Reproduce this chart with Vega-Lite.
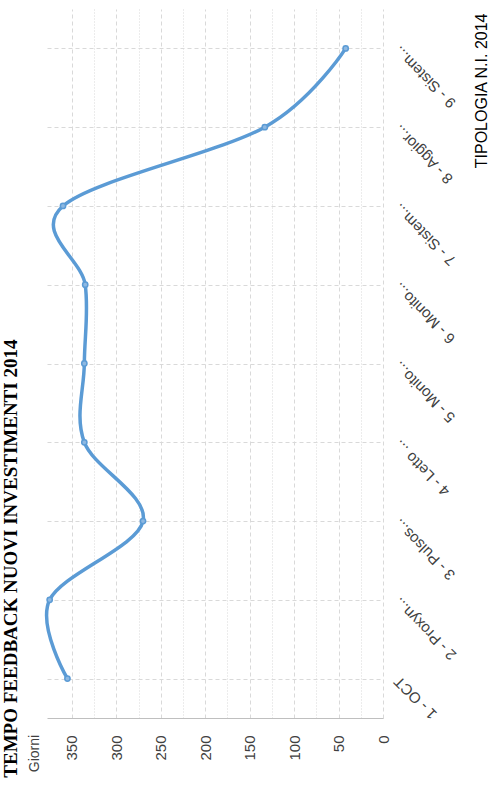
{
  "$schema": "https://vega.github.io/schema/vega-lite/v6.json",
  "autosize": "none",
  "width": 336,
  "height": 709,
  "padding": {"left": 47, "top": 9, "right": 111, "bottom": 69},
  "background": "white",
  "title": {
    "text": "TEMPO FEEDBACK NUOVI INVESTIMENTI 2014",
    "orient": "left",
    "anchor": "start",
    "font": "Liberation Serif",
    "fontSize": 19,
    "fontWeight": "bold",
    "color": "#000000",
    "offset": 6,
    "dx": -6
  },
  "config": {
    "view": {"stroke": null},
    "font": "Liberation Sans"
  },
  "data": {
    "values": [
      {"idx": 1, "cat": "1 - OCT", "giorni": 355},
      {"idx": 2, "cat": "2 - Proxyn...", "giorni": 375},
      {"idx": 3, "cat": "3 - Pulsos...", "giorni": 270},
      {"idx": 4, "cat": "4 - Letto ...", "giorni": 336},
      {"idx": 5, "cat": "5 - Monito...", "giorni": 336},
      {"idx": 6, "cat": "6 - Monito...", "giorni": 335},
      {"idx": 7, "cat": "7 - Sistem...", "giorni": 360},
      {"idx": 8, "cat": "8 - Aggior...", "giorni": 133},
      {"idx": 9, "cat": "9 - Sistem...", "giorni": 42}
    ]
  },
  "mark": {
    "type": "line",
    "interpolate": "cardinal",
    "color": "#5b9bd5",
    "strokeWidth": 3.5,
    "point": {"filled": true, "size": 28, "fill": "#8db8e2", "stroke": "#5b9bd5", "strokeWidth": 1.5}
  },
  "encoding": {
    "x": {
      "field": "giorni",
      "type": "quantitative",
      "scale": {"domain": [0, 378], "reverse": true, "nice": false},
      "axis": {
        "values": [0, 25, 50, 75, 100, 125, 150, 175, 200, 225, 250, 275, 300, 325, 350],
        "labelExpr": "datum.value % 50 === 0 ? datum.label : ''",
        "labelAngle": -90,
        "labelAlign": "right",
        "labelBaseline": "middle",
        "labelPadding": 17,
        "labelFontSize": 15,
        "labelColor": "#404040",
        "ticks": false,
        "domain": true,
        "domainColor": "#bfbfbf",
        "domainWidth": 1,
        "grid": true,
        "gridColor": "#d9d9d9",
        "gridWidth": 1,
        "gridDash": {"condition": {"test": "datum.value % 50 === 0", "value": [4, 3]}, "value": [1, 2]},
        "title": "Giorni",
        "titleAngle": -90,
        "titleX": -13,
        "titleY": 35,
        "titleAlign": "center",
        "titleBaseline": "middle",
        "titleFontSize": 14,
        "titleFontWeight": "normal",
        "titleColor": "#404040"
      }
    },
    "y": {
      "field": "cat",
      "type": "ordinal",
      "sort": {"field": "idx", "order": "descending"},
      "scale": {"type": "point", "padding": 0.5},
      "axis": {
        "orient": "right",
        "labelAngle": -135,
        "labelAlign": "right",
        "labelBaseline": "middle",
        "labelPadding": 13,
        "labelFontSize": 15,
        "labelColor": "#404040",
        "ticks": false,
        "domain": false,
        "grid": true,
        "gridColor": "#d9d9d9",
        "gridDash": [4, 3],
        "title": "TIPOLOGIA N.I. 2014",
        "titleAngle": -90,
        "titleX": 98,
        "titleY": 4,
        "titleAlign": "right",
        "titleBaseline": "middle",
        "titleFontSize": 16,
        "titleFontWeight": "normal",
        "titleColor": "#000000"
      }
    },
    "order": {"field": "idx", "type": "quantitative"}
  }
}
